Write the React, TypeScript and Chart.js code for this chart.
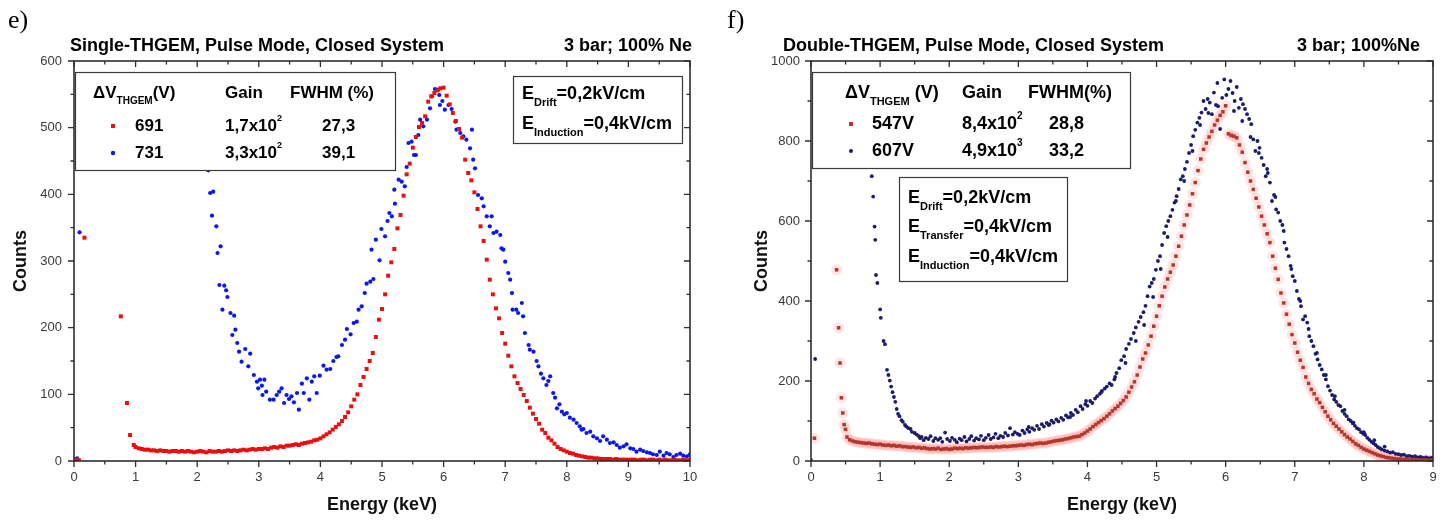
import React, { useEffect, useRef } from "react";
import { Chart, registerables } from "chart.js";

Chart.register(...registerables);

const FONT = '"Liberation Sans", Arial, Helvetica, sans-serif';
const SERIF = '"Liberation Serif", "Times New Roman", serif';

// ---------------- Panel e) Single-THGEM ----------------
const eXTicks = { min: 0, max: 10, step: 1, minor: 0.5 };
const eYTicks = { min: 0, max: 600, step: 100, minor: 50 };

// 691 V series: isolated low-energy points
const eRed691LowE = [0.03, 0.08, 0.17, 0.76, 0.86, 0.91, 0.97];
const eRed691LowC = [2, 1, 335, 217, 87, 39, 24];
// 691 V series: channels from 1.00 keV, 0.05 keV wide
const eRed691Start = 1.0;
const eRed691Bin = 0.05;
const eRed691Counts = [
  21, 19, 18, 17, 17, 16, 16, 15, 16, 15,
  15, 14, 15, 15, 14, 15, 14, 15, 14, 13,
  14, 15, 14, 13, 15, 14, 14, 15, 14, 15,
  16, 15, 16, 15, 16, 17, 16, 17, 18, 17,
  18, 18, 19, 18, 20, 21, 20, 22, 21, 23,
  23, 24, 25, 24, 26, 27, 28, 29, 31, 32,
  34, 37, 40, 43, 47, 51, 55, 60, 66, 73,
  82, 92, 100, 114, 126, 138, 150, 162, 186, 212,
  228, 250, 278, 298, 318, 349, 369, 398, 430, 446,
  470, 486, 501, 507, 517, 539, 547, 552, 556, 559,
  560, 548, 535, 522, 510, 498, 485, 452, 432, 421,
  403, 378, 352, 330, 302, 272, 250, 229, 214, 192,
  176, 158, 142, 127, 117, 108, 99, 90, 80, 71,
  63, 56, 47, 42, 35, 31, 26, 21, 18, 16,
  14, 12, 11, 9, 8, 7, 6, 5, 5, 4,
  4, 3, 3, 3, 3, 2, 3, 2, 2, 2,
  2, 2, 2, 1, 2, 2, 1, 2, 2, 1,
  2, 1, 2, 1, 1, 2, 1, 1, 2, 1,
  1,
];

// 731 V series
const eBlue731E = [
  0.02, 0.05, 0.09, 2.07, 2.11, 2.15, 2.18, 2.21, 2.24, 2.26, 2.31, 2.33, 2.36, 2.38, 2.41, 2.44, 2.47, 2.49,
  2.54, 2.57, 2.6, 2.62, 2.65, 2.68, 2.72, 2.78, 2.83, 2.86, 2.92, 2.97, 2.99, 3.02, 3.05, 3.06, 3.09, 3.12,
  3.18, 3.24, 3.29, 3.33, 3.37, 3.41, 3.45, 3.49, 3.53, 3.57, 3.62, 3.65, 3.7, 3.73, 3.78, 3.82, 3.86, 3.9,
  3.94, 3.99, 4.05, 4.1, 4.16, 4.21, 4.26, 4.29, 4.35, 4.4, 4.43, 4.49, 4.54, 4.59, 4.62, 4.67, 4.72, 4.75,
  4.81, 4.83, 4.86, 4.9, 4.96, 4.99, 5.05, 5.09, 5.12, 5.16, 5.2, 5.21, 5.27, 5.32, 5.37, 5.4, 5.43, 5.48,
  5.52, 5.55, 5.59, 5.62, 5.67, 5.73, 5.78, 5.81, 5.86, 5.91, 5.93, 5.94, 5.98, 6.02, 6.08, 6.13, 6.19, 6.21,
  6.27, 6.32, 6.37, 6.43, 6.46, 6.48, 6.51, 6.56, 6.62, 6.65, 6.7, 6.75, 6.78, 6.81, 6.86, 6.92, 6.94, 6.97,
  7.0, 7.05, 7.08, 7.11, 7.12, 7.18, 7.21, 7.27, 7.29, 7.32, 7.38, 7.4, 7.46, 7.51, 7.54, 7.58, 7.62, 7.67,
  7.7, 7.73, 7.78, 7.81, 7.84, 7.88, 7.92, 7.96, 8.0, 8.05, 8.11, 8.16, 8.21, 8.24, 8.27, 8.32, 8.38, 8.43,
  8.49, 8.54, 8.59, 8.65, 8.7, 8.76, 8.81, 8.86, 8.92, 8.97, 9.03, 9.08, 9.13, 9.19, 9.24, 9.3, 9.35, 9.4,
  9.46, 9.51, 9.57, 9.62, 9.67, 9.73, 9.78, 9.84, 9.89, 9.95, 10.0,
];
const eBlue731C = [
  2, 4, 343, 540, 500, 462, 436, 402, 368, 404, 352, 312, 264, 322, 227, 263, 256, 246,
  222, 189, 218, 197, 177, 164, 149, 168, 142, 161, 129, 119, 109, 122, 113, 99, 122, 104,
  92, 92, 99, 104, 109, 87, 99, 93, 97, 88, 102, 77, 116, 102, 124, 92, 119, 127,
  102, 128, 143, 137, 138, 150, 156, 157, 174, 182, 198, 190, 207, 209, 227, 232, 252, 266,
  269, 317, 273, 332, 301, 348, 337, 360, 372, 367, 407, 386, 422, 419, 412, 441, 477, 479,
  459, 459, 489, 512, 502, 512, 529, 547, 558, 557, 549, 534, 540, 527, 534, 528, 509, 497,
  492, 487, 482, 469, 497, 452, 439, 399, 394, 382, 367, 352, 367, 342, 344, 339, 319, 317,
  299, 282, 272, 252, 227, 227, 222, 237, 217, 192, 174, 167, 164, 150, 142, 131, 124, 114,
  120, 127, 102, 95, 79, 85, 74, 70, 72, 65, 62, 57, 52, 47, 48, 42, 44, 37,
  34, 30, 37, 32, 27, 28, 24, 20, 22, 25, 19, 18, 14, 17, 15, 13, 12, 10,
  9, 14, 8, 12, 10, 6, 9, 11, 8, 7, 10,
];

// ---------------- Panel f) Double-THGEM ----------------
const fXTicks = { min: 0, max: 9, step: 1, minor: 0.5 };
const fYTicks = { min: 0, max: 1000, step: 200, minor: 100 };

// 547 V series: isolated low-energy points
const fRed547LowE = [0.05, 0.37, 0.4, 0.42, 0.44, 0.46, 0.48, 0.5, 0.52];
const fRed547LowC = [57, 478, 333, 245, 158, 120, 91, 79, 60];
// 547 V series: channels from 0.56 keV, 0.04 keV wide
const fRed547Start = 0.56;
const fRed547Bin = 0.04;
const fRed547Counts = [
  53, 50, 48, 47, 46, 45, 44, 45, 43, 42,
  41, 42, 40, 39, 40, 38, 39, 37, 38, 36,
  36, 35, 34, 35, 33, 34, 32, 33, 31, 30,
  31, 30, 32, 29, 30, 31, 29, 30, 32, 31,
  32, 31, 33, 32, 33, 34, 33, 34, 35, 34,
  34, 35, 34, 36, 35, 36, 37, 36, 37, 38,
  38, 39, 40, 39, 41, 42, 41, 43, 44, 45,
  44, 45, 47, 48, 50, 51, 52, 53, 55, 56,
  58, 60, 61, 62, 66, 70, 75, 80, 86, 91,
  96, 101, 106, 112, 118, 125, 131, 137, 144, 151,
  160, 172, 185, 198, 215, 235, 255, 270, 290, 312,
  337, 362, 388, 412, 435, 455, 472, 490, 512, 537,
  562, 590, 615, 640, 668, 696, 726, 755, 779, 795,
  810, 824, 840, 852, 864, 873, 888, 818, 814, 812,
  808, 790, 772, 746, 722, 700, 679, 657, 635, 612,
  590, 568, 546, 512, 482, 454, 420, 395, 367, 342,
  316, 295, 272, 252, 234, 210, 194, 179, 168, 155,
  146, 134, 123, 112, 103, 94, 87, 80, 73, 66,
  60, 55, 49, 43, 39, 34, 30, 27, 24, 21,
  18, 15, 13, 11, 9, 8, 7, 6, 5, 5,
  4, 4, 4, 3, 3, 3, 3, 2, 3, 2,
  2, 2,
];

// 607 V series
const fBlue607E = [
  0.0, 0.06, 0.88, 0.9, 0.92, 0.93, 0.94, 0.96, 1.0, 1.01, 1.05, 1.07, 1.1, 1.12, 1.14, 1.16, 1.18, 1.2,
  1.22, 1.24, 1.26, 1.28, 1.31, 1.33, 1.36, 1.38, 1.41, 1.44, 1.46, 1.5, 1.53, 1.56, 1.58,
  1.6, 1.63, 1.66, 1.7, 1.73, 1.77, 1.8, 1.84, 1.87, 1.9, 1.94, 1.97, 2.01, 2.04, 2.08, 2.11, 2.15, 2.18,
  2.22, 2.25, 2.29, 2.32, 2.36, 2.39, 2.43, 2.46, 2.5, 2.53, 2.57, 2.6, 2.64, 2.67, 2.71, 2.74, 2.78, 2.81,
  2.85, 2.88, 2.92, 2.95, 2.99, 3.02, 3.06, 3.09, 3.13, 3.16, 3.2, 3.23, 3.27, 3.3, 3.34, 3.37, 3.41, 3.44,
  3.48, 3.51, 3.55, 3.58, 3.62, 3.65, 3.69, 3.72, 3.76, 3.79, 3.83, 3.86, 3.9, 3.93, 3.97, 4.0, 4.04, 4.07,
  4.11, 4.14, 4.18, 4.21, 4.25, 4.28, 4.32, 4.35, 4.39, 4.42, 4.46, 4.49, 4.53, 4.56, 4.6, 4.63, 4.67, 4.7,
  4.74, 4.77, 4.81, 4.84, 4.87, 4.9, 4.93, 4.96, 4.99, 5.02, 5.05, 5.08, 5.11, 5.14, 5.17, 5.2, 5.23, 5.26,
  5.29, 5.32, 5.35, 5.38, 5.41, 5.44, 5.47, 5.5, 5.53, 5.56, 5.59, 5.62, 5.65, 5.68, 5.71, 5.74, 5.77, 5.8,
  5.83, 5.86, 5.89, 5.92, 5.95, 5.98, 6.01, 6.04, 6.07, 6.1, 6.13, 6.16, 6.19, 6.22, 6.25, 6.28, 6.31, 6.34,
  6.37, 6.4, 6.43, 6.46, 6.49, 6.52, 6.55, 6.58, 6.61, 6.64, 6.67, 6.7, 6.73, 6.76, 6.79, 6.82, 6.85, 6.88,
  6.91, 6.94, 6.97, 7.0, 7.03, 7.06, 7.09, 7.12, 7.15, 7.18, 7.21, 7.24, 7.27, 7.3, 7.33, 7.36, 7.39, 7.42,
  7.45, 7.48, 7.51, 7.54, 7.57, 7.6, 7.63, 7.66, 7.69, 7.72, 7.75, 7.78, 7.81, 7.84, 7.87, 7.9, 7.93, 7.96,
  7.99, 8.02, 8.05, 8.08, 8.11, 8.14, 8.17, 8.2, 8.23, 8.26, 8.3, 8.34, 8.38, 8.42, 8.46, 8.5, 8.54, 8.58,
  8.62, 8.66, 8.7, 8.74, 8.78, 8.82, 8.86, 8.9, 8.94, 8.98,
  // second, scattered layer of the same spectrum
  3.15, 3.45, 3.75, 3.98, 4.2, 4.4, 4.55, 4.7, 4.82, 4.95, 5.06, 5.16, 5.28, 5.4, 5.52, 5.63, 5.75, 5.88,
  6.12, 6.24, 6.36, 6.48, 6.6, 6.72, 6.84, 6.95, 7.08, 7.2, 7.32, 7.45, 7.58, 7.72, 7.85, 8.0, 8.15, 8.3,
];
const fBlue607C = [
  2, 255, 712, 661, 586, 553, 465, 445, 379, 358, 300, 292, 228, 215, 201, 186, 172, 160,
  148, 130, 118, 112, 102, 98, 90, 86, 82, 80, 73, 70, 66, 62, 57,
  60, 52, 58, 55, 62, 50, 57, 53, 57, 48, 71, 55, 50, 58, 53, 47, 56, 52,
  60, 49, 55, 62, 51, 57, 54, 63, 52, 58, 65, 55, 59, 68, 57, 63, 60, 70,
  64, 82, 66, 72, 68, 65, 76, 70, 79, 73, 82, 78, 88, 80, 92, 86, 95, 90,
  101, 96, 104, 99, 108, 103, 114, 109, 120, 115, 128, 122, 137, 130, 142, 138, 150, 145,
  156, 162, 168, 175, 181, 186, 194, 190, 204, 220, 232, 252, 262, 280, 293, 305, 320, 334,
  348, 360, 372, 388, 412, 436, 445, 455, 478, 500, 512, 540, 570, 587, 600, 612, 628, 646,
  662, 680, 704, 712, 730, 748, 770, 790, 812, 828, 846, 858, 871, 900, 880, 905, 896, 867,
  921, 890, 887, 830, 908, 954, 915, 930, 950, 920, 900, 935, 883, 905, 892, 880, 867, 855,
  842, 804, 775, 800, 783, 758, 740, 712, 720, 696, 650, 665, 629, 621, 600, 590, 546, 530,
  512, 488, 462, 450, 425, 405, 387, 354, 362, 346, 312, 300, 287, 268, 254, 240, 229, 215,
  204, 187, 176, 165, 154, 148, 140, 137, 125, 118, 112, 104, 100, 94, 88, 82, 79, 72,
  68, 65, 58, 53, 48, 44, 40, 35, 32, 29, 26, 24, 21, 22, 18, 17, 15, 16,
  12, 13, 11, 12, 9, 10, 8, 9, 7, 8,
  85, 92, 110, 150, 172, 210, 245, 300, 340, 410, 480, 560, 650, 700, 775, 840, 870, 945,
  875, 850, 810, 770, 730, 660, 575, 480, 400, 330, 270, 215, 162, 128, 96, 72, 52, 36,
];

// ---------------- colours ----------------
const RED_E = "#ee0c0c";
const BLUE_E = "#0c16ee";
const RED_F = "#b3372b";
const HALO_F = "rgba(255,105,105,0.17)";
const BLUE_F = "#1c1c6c";

// ---------------- helpers ----------------
const pairs = (xs: number[], ys: number[]) => xs.map((x, i) => ({ x, y: ys[i] }));
const channels = (start: number, bin: number, ys: number[]) =>
  ys.map((y, i) => ({ x: Math.round((start + i * bin) * 1000) / 1000, y }));

type Seg = [string, number]; // 0 normal, 1 subscript, 2 superscript

function rich(ctx: CanvasRenderingContext2D, x: number, y: number, segs: Seg[], size: number) {
  let cx = x;
  ctx.textBaseline = "middle";
  ctx.textAlign = "left";
  for (const [t, k] of segs) {
    const fs = k === 0 ? size : Math.round(size * (k === 1 ? 0.6 : 0.55));
    ctx.font = `bold ${fs}px ${FONT}`;
    const dy = k === 1 ? size * 0.5 : k === 2 ? -size * 0.45 : 0;
    ctx.fillText(t, cx, y + dy);
    cx += ctx.measureText(t).width + (k === 2 ? 2 : 0);
  }
}

function box(ctx: CanvasRenderingContext2D, x: number, y: number, w: number, h: number) {
  ctx.fillStyle = "#ffffff";
  ctx.fillRect(x, y, w, h);
  ctx.strokeStyle = "#3a3a3a";
  ctx.lineWidth = 1.2;
  ctx.strokeRect(x + 0.5, y + 0.5, w, h);
  ctx.fillStyle = "#000";
}

function drawFrame(chart: any, xMinor: number, yMinor: number) {
  const { ctx, chartArea: a } = chart;
  const xs = chart.scales.x;
  const ys = chart.scales.y;
  ctx.save();
  ctx.strokeStyle = "#2e2e2e";
  ctx.lineWidth = 1.6;
  ctx.strokeRect(a.left, a.top, a.right - a.left, a.bottom - a.top);
  ctx.lineWidth = 1.3;
  ctx.beginPath();
  const nx = Math.round((xs.max - xs.min) / xMinor);
  for (let i = 0; i <= nx; i++) {
    const px = xs.getPixelForValue(xs.min + i * xMinor);
    const len = i % 2 === 0 ? 6 : 3.5;
    ctx.moveTo(px, a.bottom);
    ctx.lineTo(px, a.bottom + len);
    ctx.moveTo(px, a.top);
    ctx.lineTo(px, a.top + len);
  }
  const ny = Math.round((ys.max - ys.min) / yMinor);
  for (let i = 0; i <= ny; i++) {
    const py = ys.getPixelForValue(ys.min + i * yMinor);
    const len = i % 2 === 0 ? 6 : 3.5;
    ctx.moveTo(a.left, py);
    ctx.lineTo(a.left - len, py);
    ctx.moveTo(a.right, py);
    ctx.lineTo(a.right - len, py);
  }
  ctx.stroke();
  ctx.restore();
}

function header(ctx: CanvasRenderingContext2D, letter: string, lx: number, title: string, tx: number, cond: string, cr: number) {
  ctx.fillStyle = "#000";
  ctx.font = `26px ${SERIF}`;
  ctx.textBaseline = "alphabetic";
  ctx.textAlign = "left";
  ctx.fillText(letter, lx, 28);
  ctx.font = `bold 18px ${FONT}`;
  ctx.textBaseline = "middle";
  ctx.fillText(title, tx, 46);
  ctx.textAlign = "right";
  ctx.fillText(cond, cr, 46);
}

const overlayE = {
  id: "overlayE",
  afterDraw(chart: any) {
    const ctx: CanvasRenderingContext2D = chart.ctx;
    drawFrame(chart, eXTicks.minor, eYTicks.minor);
    ctx.save();
    header(ctx, "e)", 8, "Single-THGEM, Pulse Mode, Closed System", 70, "3 bar; 100% Ne", 692);
    box(ctx, 75, 72, 320, 98);
    const s = 17;
    rich(ctx, 93, 93, [["\u0394V", 0], ["THGEM", 1], ["(V)", 0]], s);
    rich(ctx, 225, 93, [["Gain", 0]], s);
    rich(ctx, 290, 93, [["FWHM (%)", 0]], s);
    ctx.fillStyle = RED_E;
    ctx.fillRect(111, 124, 4, 4);
    ctx.fillStyle = "#000";
    rich(ctx, 135, 126, [["691", 0]], s);
    rich(ctx, 225, 126, [["1,7x10", 0], ["2", 2]], s);
    rich(ctx, 322, 126, [["27,3", 0]], s);
    ctx.fillStyle = BLUE_E;
    ctx.beginPath();
    ctx.arc(113, 153, 2.2, 0, Math.PI * 2);
    ctx.fill();
    ctx.fillStyle = "#000";
    rich(ctx, 135, 153, [["731", 0]], s);
    rich(ctx, 225, 153, [["3,3x10", 0], ["2", 2]], s);
    rich(ctx, 322, 153, [["39,1", 0]], s);
    box(ctx, 513, 76, 169, 67);
    rich(ctx, 522, 94, [["E", 0], ["Drift", 1], ["=0,2kV/cm", 0]], 18);
    rich(ctx, 522, 124, [["E", 0], ["Induction", 1], ["=0,4kV/cm", 0]], 18);
    ctx.restore();
  },
};

const OFF = 720; // x offset of the second canvas
const overlayF = {
  id: "overlayF",
  afterDraw(chart: any) {
    const ctx: CanvasRenderingContext2D = chart.ctx;
    drawFrame(chart, fXTicks.minor, fYTicks.minor);
    ctx.save();
    header(ctx, "f)", 727 - OFF, "Double-THGEM, Pulse Mode, Closed System", 783 - OFF, "3 bar; 100%Ne", 1420 - OFF);
    box(ctx, 812 - OFF, 72, 318, 96);
    const s = 18;
    rich(ctx, 845 - OFF, 93, [["\u0394V", 0], ["THGEM", 1], [" (V)", 0]], s);
    rich(ctx, 962 - OFF, 93, [["Gain", 0]], s);
    rich(ctx, 1028 - OFF, 93, [["FWHM(%)", 0]], s);
    ctx.fillStyle = RED_F;
    ctx.fillRect(849 - OFF, 122, 4, 4);
    ctx.fillStyle = "#000";
    rich(ctx, 872 - OFF, 124, [["547V", 0]], s);
    rich(ctx, 962 - OFF, 124, [["8,4x10", 0], ["2", 2]], s);
    rich(ctx, 1049 - OFF, 124, [["28,8", 0]], s);
    ctx.fillStyle = BLUE_F;
    ctx.beginPath();
    ctx.arc(851 - OFF, 151, 2, 0, Math.PI * 2);
    ctx.fill();
    ctx.fillStyle = "#000";
    rich(ctx, 872 - OFF, 151, [["607V", 0]], s);
    rich(ctx, 962 - OFF, 151, [["4,9x10", 0], ["3", 2]], s);
    rich(ctx, 1049 - OFF, 151, [["33,2", 0]], s);
    box(ctx, 899 - OFF, 177, 168, 104);
    rich(ctx, 908 - OFF, 198, [["E", 0], ["Drift", 1], ["=0,2kV/cm", 0]], 18);
    rich(ctx, 908 - OFF, 227, [["E", 0], ["Transfer", 1], ["=0,4kV/cm", 0]], 18);
    rich(ctx, 908 - OFF, 257, [["E", 0], ["Induction", 1], ["=0,4kV/cm", 0]], 18);
    ctx.restore();
  },
};

function axisOptions(
  t: { min: number; max: number; step: number },
  opts: { fit: (s: any) => void; tickPad: number; title: string; titlePad: any }
) {
  return {
    type: "linear",
    min: t.min,
    max: t.max,
    afterFit: opts.fit,
    grid: { display: false, drawTicks: false },
    border: { display: false },
    ticks: {
      stepSize: t.step,
      padding: opts.tickPad,
      color: "#3a3a3a",
      font: { family: FONT, size: 13 },
      maxRotation: 0,
      autoSkip: false,
      callback: (v: number) => String(v),
    },
    title: {
      display: true,
      text: opts.title,
      color: "#111",
      font: { family: FONT, size: 18, weight: "bold" },
      padding: opts.titlePad,
    },
  };
}

function configE(): any {
  return {
    type: "scatter",
    data: {
      datasets: [
        {
          label: "691",
          data: [...pairs(eRed691LowE, eRed691LowC), ...channels(eRed691Start, eRed691Bin, eRed691Counts)],
          pointStyle: "rect",
          pointRadius: 2.8,
          backgroundColor: RED_E,
          pointBackgroundColor: RED_E,
          borderWidth: 0,
          pointBorderWidth: 0,
        },
        {
          label: "731",
          data: pairs(eBlue731E, eBlue731C),
          pointStyle: "circle",
          pointRadius: 2.1,
          backgroundColor: BLUE_E,
          pointBackgroundColor: BLUE_E,
          borderWidth: 0,
          pointBorderWidth: 0,
        },
      ],
    },
    options: {
      animation: false,
      responsive: false,
      events: [],
      layout: { padding: { left: 0, top: 61, right: 30, bottom: 0 } },
      plugins: { legend: { display: false }, tooltip: { enabled: false } },
      scales: {
        x: axisOptions(eXTicks, {
          fit: (s: any) => { s.height = 59; },
          tickPad: 9,
          title: "Energy (keV)",
          titlePad: { top: 0, bottom: 4 },
        }),
        y: axisOptions(eYTicks, {
          fit: (s: any) => { s.width = 74; },
          tickPad: 12,
          title: "Counts",
          titlePad: { top: 10, bottom: 0 },
        }),
      },
    },
    plugins: [overlayE],
  };
}

function configF(): any {
  const red = [...pairs(fRed547LowE, fRed547LowC), ...channels(fRed547Start, fRed547Bin, fRed547Counts)];
  return {
    type: "scatter",
    data: {
      datasets: [
        {
          label: "547V",
          data: red,
          pointStyle: "rect",
          pointRadius: 2.5,
          backgroundColor: RED_F,
          pointBackgroundColor: RED_F,
          borderWidth: 0,
          pointBorderWidth: 0,
        },
        {
          label: "607V",
          data: pairs(fBlue607E, fBlue607C),
          pointStyle: "circle",
          pointRadius: 1.9,
          backgroundColor: BLUE_F,
          pointBackgroundColor: BLUE_F,
          borderWidth: 0,
          pointBorderWidth: 0,
        },
        {
          label: "halo",
          data: red,
          pointStyle: "circle",
          pointRadius: 5.5,
          backgroundColor: HALO_F,
          pointBackgroundColor: HALO_F,
          borderWidth: 0,
          pointBorderWidth: 0,
        },
      ],
    },
    options: {
      animation: false,
      responsive: false,
      events: [],
      layout: { padding: { left: 0, top: 61, right: 13, bottom: 0 } },
      plugins: { legend: { display: false }, tooltip: { enabled: false } },
      scales: {
        x: axisOptions(fXTicks, {
          fit: (s: any) => { s.height = 59; },
          tickPad: 9,
          title: "Energy (keV)",
          titlePad: { top: 0, bottom: 4 },
        }),
        y: axisOptions(fYTicks, {
          fit: (s: any) => { s.width = 91; },
          tickPad: 11,
          title: "Counts",
          titlePad: { top: 31, bottom: 0 },
        }),
      },
    },
    plugins: [overlayF],
  };
}

function Panel({ left, width, make }: { left: number; width: number; make: () => any }) {
  const ref = useRef<HTMLCanvasElement | null>(null);
  useEffect(() => {
    if (!ref.current) return;
    const chart = new Chart(ref.current, make());
    return () => chart.destroy();
  }, [make]);
  return (
    <canvas
      ref={ref}
      width={width}
      height={520}
      style={{ position: "absolute", left, top: 0, width, height: 520, display: "block" }}
    />
  );
}

export default function App() {
  return (
    <div style={{ position: "absolute", left: 0, top: 0, width: 1446, height: 520, background: "#fff", overflow: "hidden" }}>
      <Panel left={0} width={720} make={configE} />
      <Panel left={OFF} width={726} make={configF} />
    </div>
  );
}
